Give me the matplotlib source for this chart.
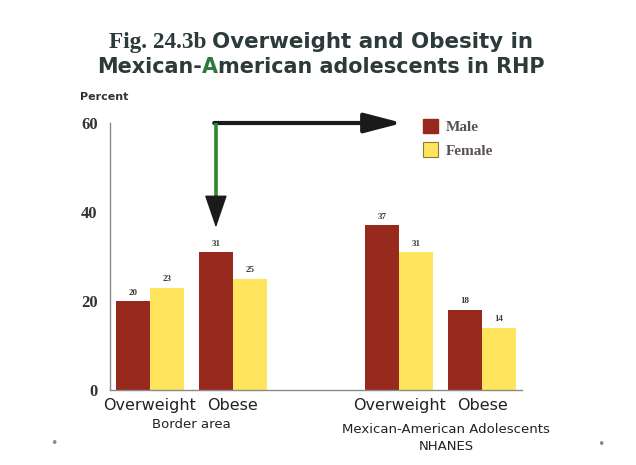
import matplotlib
matplotlib.use("Agg")
import matplotlib.pyplot as plt
from matplotlib.patches import Patch
from matplotlib.transforms import blended_transform_factory

# Data
groups = ["Overweight", "Obese", "Overweight", "Obese"]
group_pos = [0, 1, 3, 4]
male = [20, 31, 37, 18]
female = [23, 25, 31, 14]
series_names = ["Male", "Female"]
yticks = [0, 20, 40, 60]
sections = ["Border area", "Mexican-American Adolescents\nNHANES"]

male_color = "#98291d"
female_color = "#ffe45e"
title_color = "#2d3a3a"
sans = ["DejaVu Sans"]
serif = ["Liberation Serif", "DejaVu Serif"]

W, H, DPI = 636, 465, 100
fig = plt.figure(figsize=(W / DPI, H / DPI), dpi=DPI)
fig.patch.set_facecolor("white")

ax = fig.add_axes([110 / W, 1 - 390 / H, (522 - 110) / W, (390 - 123) / H])
bw = 0.41
xm = [p - bw / 2 for p in group_pos]
xf = [p + bw / 2 for p in group_pos]
ax.bar(xm, male, width=bw, color=male_color, linewidth=0)
ax.bar(xf, female, width=bw, color=female_color, linewidth=0)

for x, v in zip(xm + xf, male + female):
    ax.text(x, v + 1.0, f"{v}", ha="center", va="bottom", fontsize=6.5,
            fontweight="bold", family=serif, color="#3a3a3a")

ax.set_xlim(-0.48, 4.48)
ax.set_ylim(0, 60)
ax.set_yticks(yticks)
ax.set_yticklabels([str(t) for t in yticks], family=serif, fontweight="bold",
                   fontsize=12, color="#333333")
ax.set_xticks(group_pos)
ax.set_xticklabels(groups, family=sans, fontsize=11.5, color="#222222")
ax.tick_params(axis="both", length=0)
ax.tick_params(axis="y", pad=9)
ax.tick_params(axis="x", pad=6)
for s in ["top", "right"]:
    ax.spines[s].set_visible(False)
for s in ["left", "bottom"]:
    ax.spines[s].set_color("#8a8a8a")
    ax.spines[s].set_linewidth(1.0)

# Section captions under each pair of groups
tr = blended_transform_factory(ax.transData, fig.transFigure)
ax.text(0.5, 1 - 424 / H, sections[0], transform=tr, ha="center", va="center",
        family=sans, fontsize=9.5, color="#222222")
ax.text(3.57, 1 - 438 / H, sections[1], transform=tr, ha="center", va="center",
        family=sans, fontsize=9.5, color="#222222", linespacing=1.35)

# Arrow linking the border-area obese bar to the NHANES data
x0 = xm[1]
ax.annotate("", xy=(3.04, 60), xytext=(x0 - 0.02, 60),
            arrowprops=dict(arrowstyle="-|>,head_length=1.15,head_width=0.3",
                            mutation_scale=20, color="#1a1a1a", lw=3,
                            shrinkA=0, shrinkB=0),
            annotation_clip=False)
ax.plot([x0, x0], [60, 42.5], color="#2c8a2c", lw=2.6, solid_capstyle="butt",
        clip_on=False, zorder=5)
ax.annotate("", xy=(x0, 36.5), xytext=(x0, 43.5),
            arrowprops=dict(arrowstyle="-|>,head_length=1.05,head_width=0.36",
                            mutation_scale=20, color="#1a1a1a", lw=1,
                            shrinkA=0, shrinkB=0),
            annotation_clip=False, zorder=6)

# Legend
handles = [Patch(facecolor=male_color, edgecolor=male_color),
           Patch(facecolor=female_color, edgecolor="#8a7a30", linewidth=0.8)]
leg = fig.legend(handles, series_names, loc="upper left",
                 bbox_to_anchor=(412 / W, 1 - 108 / H), frameon=False,
                 prop=dict(family=serif, weight="bold", size=11),
                 handlelength=1.0, handleheight=1.05, labelspacing=0.55,
                 handletextpad=0.5, borderpad=0.2)
for t in leg.get_texts():
    t.set_color("#5a5050")

# "Percent" axis caption
fig.text(80 / W, 1 - 97 / H, "Percent", family=sans, fontweight="bold",
         fontsize=8, color="#333333", ha="left", va="center")

# Title drawn piece by piece so fonts and colours can vary within a line
renderer = fig.canvas.get_renderer()


def draw_pieces(pieces, x_left, y_base, x_right):
    texts = []
    for s, kw in pieces:
        texts.append(fig.text(0, y_base, s, va="baseline", ha="left", **kw))
    widths = [t.get_window_extent(renderer).width for t in texts]
    scale = (x_right - x_left) / sum(widths)
    for t in texts:
        t.set_fontsize(t.get_fontsize() * scale)
    x = x_left
    for t in texts:
        t.set_x(x / W)
        x += t.get_window_extent(renderer).width


title_kw = dict(family=sans, fontweight="bold", color=title_color, fontsize=17)
fig_kw = dict(family=serif, fontweight="bold", color=title_color, fontsize=18.5)
draw_pieces([("Fig. 24.3b ", fig_kw),
             ("Overweight and Obesity in", title_kw)],
            109, 1 - 48 / H, 534)
draw_pieces([("Mexican-", title_kw),
             ("A", dict(title_kw, color="#2f7a3a")),
             ("merican adolescents in RHP", title_kw)],
            97, 1 - 73 / H, 545)

# Slide bullet dots
fig.text(54 / W, 1 - 443 / H, "\u2022", color="#8a8a8a", fontsize=9,
         ha="center", va="center")
fig.text(601 / W, 1 - 444 / H, "\u2022", color="#8a8a8a", fontsize=9,
         ha="center", va="center")

fig.savefig("out.png", dpi=DPI, facecolor="white")
